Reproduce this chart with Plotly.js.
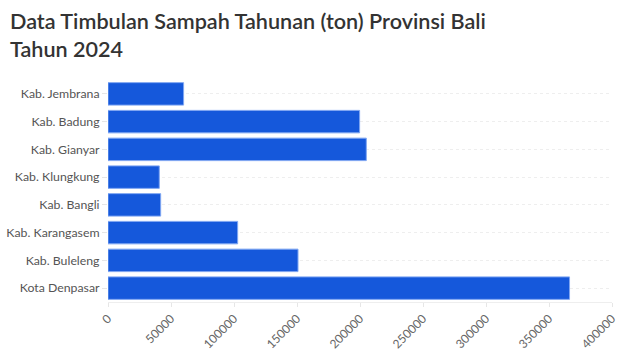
<!DOCTYPE html>
<html>
<head>
<meta charset="utf-8">
<script src="https://cdn.plot.ly/plotly-3.0.1.min.js"></script>
<style>html,body{margin:0;padding:0;background:#fff;}#chart{width:632px;height:360px;}</style>
</head>
<body>
<div id="chart"></div>
<script>
const categories = ["Kab. Jembrana","Kab. Badung","Kab. Gianyar","Kab. Klungkung","Kab. Bangli","Kab. Karangasem","Kab. Buleleng","Kota Denpasar"];
const values = [60000, 199700, 205000, 40700, 41800, 102900, 150800, 366300];
const xTicks = [0,50000,100000,150000,200000,250000,300000,350000,400000];
const titleText = "Data Timbulan Sampah Tahunan (ton) Provinsi Bali<br>Tahun 2024";

const W = 632, H = 360, M = {l: 108, r: 20, t: 80, b: 58};
const pw = W - M.l - M.r, ph = H - M.t - M.b;

const trace = {
  type: "bar",
  orientation: "h",
  y: categories,
  x: values,
  marker: {color: "#1558DB", line: {color: "#7FA6F2", width: 1}},
  hoverinfo: "x+y"
};
const layout = {
  width: W, height: H,
  margin: M,
  paper_bgcolor: "#fff", plot_bgcolor: "#fff",
  bargap: 0.19,
  font: {family: "Lato, sans-serif", size: 12, color: "#555"},
  annotations: [{
    text: titleText, showarrow: false, align: "left",
    xref: "paper", yref: "paper",
    x: (8 - M.l) / pw, y: 1 + (M.t - 6) / ph,
    xanchor: "left", yanchor: "top",
    font: {family: "Lato, sans-serif", size: 21.6, color: "#333", weight: 600}
  }],
  xaxis: {
    range: [0, 400000], tickvals: xTicks, ticktext: xTicks.map(String),
    tickangle: -45, showgrid: false, zeroline: false,
    showline: true, linecolor: "#eeeeee", linewidth: 1,
    ticks: "outside", ticklen: 4, tickcolor: "#e6e6e6",
    tickfont: {size: 12, color: "#666"}
  },
  yaxis: {
    autorange: "reversed", showgrid: true, gridcolor: "#eeeeee", griddash: "dot",
    ticks: "outside", ticklen: 5, tickcolor: "#e6e6e6",
    showline: false, zeroline: false,
    tickfont: {size: 12.3, color: "#555"}
  },
  showlegend: false
};
Plotly.newPlot("chart", [trace], layout, {displayModeBar: false, staticPlot: true});
</script>
</body>
</html>
